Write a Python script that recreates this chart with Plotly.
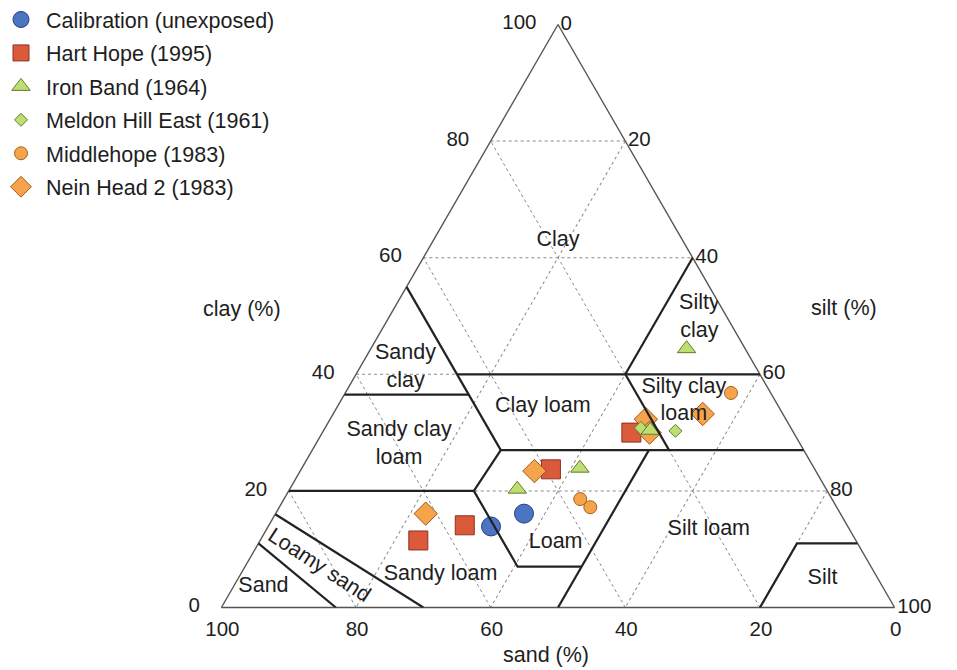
import plotly.graph_objects as go

# ---------------- data: (clay, sand, silt) in % ----------------
cal_clay = [16.1, 13.9]
cal_sand = [47.0, 53.0]
cal_silt = [36.9, 33.1]

hart_clay = [23.7, 14.1, 11.5, 30.0]
hart_sand = [39.2, 56.8, 65.0, 24.1]
hart_silt = [37.1, 29.1, 23.5, 45.9]

iron_clay = [23.9, 20.3, 44.4, 30.4]
iron_sand = [34.8, 45.9, 8.7, 21.1]
iron_silt = [41.3, 33.8, 46.9, 48.5]

meldon_clay = [30.8, 30.3]
meldon_sand = [22.3, 17.4]
meldon_silt = [46.9, 52.3]

middle_clay = [18.6, 17.2, 36.8]
middle_sand = [37.4, 36.6, 5.9]
middle_silt = [44.0, 46.2, 57.3]

nein_clay = [23.4, 16.1, 33.2, 32.3, 30.0]
nein_sand = [41.8, 61.6, 11.9, 20.8, 21.4]
nein_silt = [34.8, 22.3, 54.9, 46.9, 48.6]

# texture-class boundaries, each a polyline of (clay, sand, silt)
boundaries = [
    [(0, 83, 17), (11, 89, 0)],                      # sand / loamy sand
    [(0, 70, 30), (16, 84, 0)],                      # loamy sand / sandy loam
    [(20, 80, 0), (20, 52.5, 27.5)],                 # sandy loam / sandy clay loam
    [(20, 52.5, 27.5), (7, 52.5, 40.5), (7, 43, 50)],  # sandy loam / loam
    [(0, 50, 50), (27, 23, 50)],                     # loam / silt loam
    [(20, 52.5, 27.5), (27, 45, 28)],                # sandy clay loam / loam
    [(27, 45, 28), (27, 0, 73)],                     # clay 27 line
    [(27, 45, 28), (55, 45, 0)],                     # sand 45 line
    [(36.5, 63.5, 0), (36.5, 45, 18.5)],             # sandy clay / sandy clay loam
    [(40, 45, 15), (40, 0, 60)],                     # clay 40 line
    [(40, 20, 40), (60, 0, 40)],                     # clay / silty clay
    [(40, 20, 40), (27, 20, 53)],                    # clay loam / silty clay loam
    [(0, 20, 80), (11, 9, 80), (11, 0, 89)],         # silt
]

class_names = ["Clay", "Silty<br>clay", "Sandy<br>clay", "Clay loam",
               "Silty clay<br>loam", "Sandy clay<br>loam", "Loam", "Silt loam",
               "Silt", "Sandy loam", "Sand"]
class_clay = [63, 49.8, 41.1, 34.5, 35.4, 28.0, 11.1, 13.4, 5.0, 5.7, 3.5]
class_sand = [18.5, 4.1, 52.1, 35.0, 13.6, 59.6, 44.8, 20.9, 8.2, 64.6, 92.0]
class_silt = [18.5, 46.1, 6.8, 30.5, 51.0, 12.4, 44.1, 65.7, 86.8, 29.7, 4.5]

loamy_sand_pos = (7.3, 81.8, 10.9)   # clay, sand, silt of the rotated label

tick_vals = [0, 20, 40, 60, 80, 100]

# ---------------- layout geometry (screen px) ----------------
W, H = 957, 670
PAGE_X, PAGE_Y = 8.0, 7.5            # page margin around the figure
apex_y, base_y = 24.0, 607.0
apex_x = 558.0
tri_h = base_y - apex_y
tri_w = tri_h * 2 / 3 ** 0.5
tri_left, tri_right = apex_x - tri_w / 2, apex_x + tri_w / 2


def px(x, y):
    """screen pixel -> paper fraction"""
    return (x - PAGE_X) / W, 1 - (y - PAGE_Y) / H


cxp, cyp = px(apex_x, (apex_y + base_y) / 2)
dom_y_half = tri_h / H / 2
dom_x_half = 0.40
domain_x = [cxp - dom_x_half, cxp + dom_x_half]
domain_y = [cyp - dom_y_half, cyp + dom_y_half]


def tern_px(clay, sand, silt):
    tot = clay + sand + silt
    x = (tri_left * sand + tri_right * silt + apex_x * clay) / tot
    y = base_y - tri_h * clay / tot
    return x, y


FONT = "Arial, Liberation Sans, sans-serif"
TXT = "#1e1e1e"
FS = 21.5

fig = go.Figure()

series = [
    # name, clay, sand, silt, symbol, size, fill, line, legend rank
    ("Hart Hope (1995)", hart_clay, hart_sand, hart_silt, "square", 19, "#DB5A3C", "#8E3220", 2),
    ("Nein Head 2 (1983)", nein_clay, nein_sand, nein_silt, "diamond", 18, "#F5A44C", "#9E5A1A", 6),
    ("Middlehope (1983)", middle_clay, middle_sand, middle_silt, "circle", 13, "#F5A44C", "#A8601C", 5),
    ("Meldon Hill East (1961)", meldon_clay, meldon_sand, meldon_silt, "diamond", 10, "#BEDD73", "#5E7F2A", 4),
    ("Iron Band (1964)", iron_clay, iron_sand, iron_silt, "triangle-up", 16, "#BEDD73", "#5E7F2A", 3),
    ("Calibration (unexposed)", cal_clay, cal_sand, cal_silt, "circle", 19, "#4B74C3", "#233F7F", 1),
]
for name, a, b, c, sym, size, fill, line, rank in series:
    fig.add_trace(go.Scatterternary(
        a=a, b=b, c=c, mode="markers", name=name,
        legendgroup=name, legendrank=rank,
        marker=dict(symbol=sym, size=size, color=fill,
                    line=dict(color=line, width=1)),
        hoverinfo="name",
    ))

# boundaries
ba, bb, bc = [], [], []
for poly in boundaries:
    for (a, b, c) in poly:
        ba.append(a); bb.append(b); bc.append(c)
    ba.append(None); bb.append(None); bc.append(None)
fig.add_trace(go.Scatterternary(
    a=ba, b=bb, c=bc, mode="lines", showlegend=False,
    line=dict(color="#222222", width=2.2), hoverinfo="skip",
))

# class labels
fig.add_trace(go.Scatterternary(
    a=class_clay, b=class_sand, c=class_silt, mode="text",
    text=class_names, textposition="middle center", showlegend=False,
    textfont=dict(family=FONT, size=FS, color=TXT), hoverinfo="skip",
))

axis_common = dict(
    min=0,
    tickmode="array", tickvals=tick_vals,
    showgrid=True, gridcolor="#8a8a8a", griddash="dot", gridwidth=1.2,
    showline=True, linecolor="#555555", linewidth=1.4,
    tickfont=dict(family=FONT, size=20.5, color=TXT),
    title=dict(text=""),
    layer="below traces",
)
aaxis = dict(axis_common, ticks="outside", ticklen=18, tickcolor="rgba(0,0,0,0)")
baxis = dict(axis_common, ticks="outside", ticklen=2, tickcolor="rgba(0,0,0,0)")
caxis = dict(axis_common, ticks="", ticklen=0)


def ann(text, x_px, y_px, angle=0):
    x, y = px(x_px, y_px)
    return dict(text=text, x=x, y=y, xref="paper", yref="paper",
                xanchor="center", yanchor="middle", showarrow=False,
                textangle=angle, font=dict(family=FONT, size=FS, color=TXT))


lsx, lsy = tern_px(*loamy_sand_pos)
leg_x, leg_y = px(-4, -1.5)

fig.update_layout(
    width=W, height=H,
    margin=dict(l=0, r=0, t=0, b=0, autoexpand=False),
    paper_bgcolor="white",
    font=dict(family=FONT, size=FS, color=TXT),
    ternary=dict(
        sum=100,
        domain=dict(x=domain_x, y=domain_y),
        bgcolor="white",
        aaxis=aaxis,
        baxis=baxis,
        caxis=caxis,
    ),
    legend=dict(
        x=leg_x, y=leg_y, xanchor="left", yanchor="top",
        font=dict(family=FONT, size=FS, color=TXT),
        bgcolor="rgba(0,0,0,0)", traceorder="grouped", tracegroupgap=2.5,
        itemwidth=40, itemclick=False,
    ),
    annotations=[
        ann("clay (%)", 242, 308),
        ann("silt (%)", 844, 307),
        ann("sand (%)", 546, 654),
        ann("Loamy sand", lsx, lsy, 33),
    ],
)

fig.write_html("out.html")
